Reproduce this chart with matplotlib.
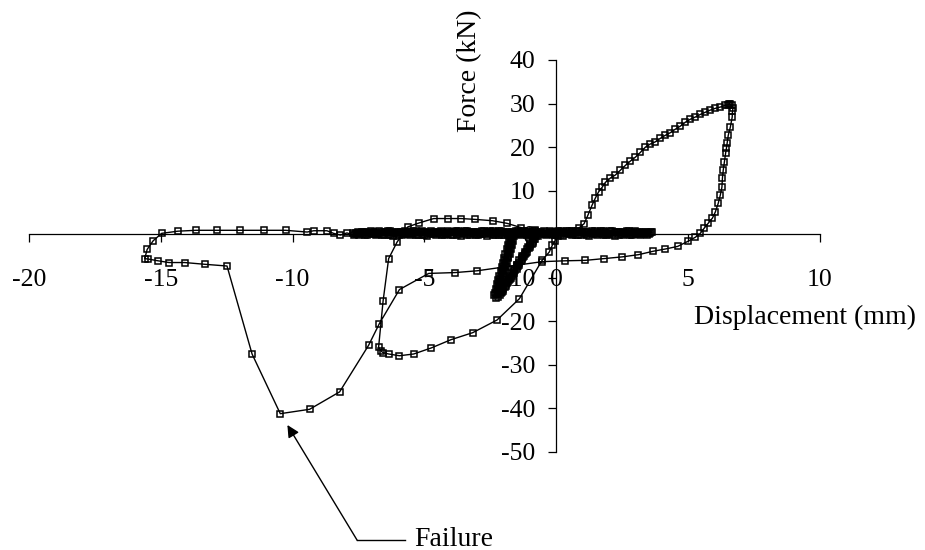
import numpy as np
import matplotlib
matplotlib.use("Agg")
import matplotlib.pyplot as plt

plt.rcParams['font.family'] = ['Liberation Serif', 'DejaVu Serif']
plt.rcParams['axes.unicode_minus'] = False

# Ciclos de amplitud pequeña (banda casi horizontal junto al eje)
band1_x = [-7.60, -7.28, -6.95, -6.63, -6.30, -5.98, -5.66, -5.33, -5.01, -4.69, -4.36, -4.04,
           -3.72, -3.39, -3.07, -2.75, -2.42, -2.10, -1.78, -1.45, -1.13, -0.81, -0.48, -0.16,
           0.16, 0.49, 0.81, 1.13, 1.46, 1.78, 2.10, 2.43, 2.75, 3.07, 3.40, 3.62]
band1_f = [0.3, 0.5, 0.6, 0.5, 0.7, 0.6, 0.6, 0.7, 0.5, 0.6, 0.7, 0.6,
           0.8, 0.7, 0.6, 0.7, 0.8, 0.7, 0.6, 0.8, 0.7, 0.7, 0.8, 0.6,
           0.7, 0.8, 0.7, 0.6, 0.7, 0.8, 0.7, 0.6, 0.7, 0.6, 0.5, 0.4]
band2_x = [3.50, 3.18, 2.86, 2.53, 2.21, 1.89, 1.56, 1.24, 0.92, 0.59, 0.27, -0.05,
           -0.38, -0.70, -1.02, -1.35, -1.67, -1.99, -2.32, -2.64, -2.96, -3.29, -3.61, -3.93,
           -4.26, -4.58, -4.90, -5.23, -5.55, -5.87, -6.20, -6.52, -6.84, -7.17, -7.49]
band2_f = [0.1, -0.1, -0.2, -0.1, -0.3, -0.2, -0.1, -0.3, -0.2, -0.2, -0.3, -0.1,
           -0.2, -0.3, -0.2, -0.1, -0.3, -0.2, -0.2, -0.3, -0.1, -0.2, -0.3, -0.2,
           -0.1, -0.2, -0.3, -0.2, -0.1, -0.2, -0.3, -0.2, -0.1, -0.2, -0.1]
band3_x = [-7.45, -7.12, -6.79, -6.47, -6.14, -5.82, -5.49, -5.17, -4.85, -4.52, -4.20, -3.88,
           -3.55, -3.23, -2.91, -2.58, -2.26, -1.94, -1.61, -1.29, -0.97, -0.64, -0.32, 0.00,
           0.33, 0.65, 0.97, 1.30, 1.62, 1.94, 2.27, 2.59, 2.91, 3.24, 3.55]
band3_f = [0.2, 0.3, 0.2, 0.4, 0.3, 0.2, 0.3, 0.4, 0.3, 0.2, 0.3, 0.4,
           0.3, 0.3, 0.2, 0.4, 0.3, 0.2, 0.3, 0.4, 0.3, 0.2, 0.3, 0.4,
           0.3, 0.2, 0.4, 0.3, 0.3, 0.2, 0.4, 0.3, 0.2, 0.3, 0.2]
band4_x = [3.34, 3.02, 2.69, 2.37, 2.05, 1.72, 1.40, 1.08, 0.75, 0.43, 0.11, -0.22,
           -0.54, -0.86, -1.19, -1.51, -1.83, -2.16, -2.48, -2.80, -3.13, -3.45, -3.77, -4.10,
           -4.42, -4.74, -5.07, -5.39, -5.71, -6.04, -6.36, -6.68, -7.01, -7.33, -7.65]
band4_f = [0.0, 0.1, 0.0, -0.1, 0.1, 0.0, 0.1, 0.0, -0.1, 0.0, 0.1, 0.0,
           0.1, -0.1, 0.0, 0.1, 0.0, -0.1, 0.1, 0.0, 0.0, 0.1, -0.1, 0.0,
           0.1, 0.0, -0.1, 0.0, 0.1, 0.0, -0.1, 0.1, 0.0, 0.0, 0.1]
band5_x = [-7.52, -7.20, -6.87, -6.55, -6.22, -5.90, -5.58, -5.25, -4.93, -4.61, -4.28, -3.96,
           -3.64, -3.31, -2.99, -2.67, -2.34, -2.02, -1.70, -1.37, -1.05, -0.73, -0.40, -0.08,
           0.24, 0.57, 0.89, 1.21, 1.54, 1.86, 2.18, 2.51, 2.83, 3.15, 3.48]
band5_f = [0.5, 0.4, 0.6, 0.5, 0.4, 0.6, 0.5, 0.4, 0.6, 0.5, 0.5, 0.6,
           0.4, 0.5, 0.6, 0.5, 0.4, 0.6, 0.5, 0.5, 0.4, 0.6, 0.5, 0.5,
           0.6, 0.4, 0.5, 0.6, 0.5, 0.4, 0.5, 0.6, 0.5, 0.4, 0.3]
band6_x = [3.42, 3.10, 2.78, 2.45, 2.13, 1.81, 1.48, 1.16, 0.84, 0.51, 0.19, -0.13,
           -0.46, -0.78, -1.10, -1.43, -1.75, -2.07, -2.40, -2.72, -3.04, -3.37, -3.69, -4.01,
           -4.34, -4.66, -4.98, -5.31, -5.63, -5.95, -6.28, -6.60, -6.92, -7.25, -7.57]
band6_f = [-0.1, 0.0, -0.1, 0.0, -0.2, -0.1, 0.0, -0.1, -0.2, 0.0, -0.1, -0.1,
           0.0, -0.2, -0.1, 0.0, -0.1, -0.2, -0.1, 0.0, -0.1, -0.2, 0.0, -0.1,
           -0.1, 0.0, -0.2, -0.1, 0.0, -0.1, -0.2, -0.1, 0.0, -0.1, 0.0]
band7_x = [-7.36, -7.04, -6.71, -6.39, -6.06, -5.74, -5.42, -5.09, -4.77, -4.45, -4.12, -3.80,
           -3.48, -3.15, -2.83, -2.51, -2.18, -1.86, -1.54, -1.21, -0.89, -0.57, -0.24, 0.08,
           0.40, 0.73, 1.05, 1.37, 1.70, 2.02, 2.34, 2.67, 2.99, 3.31, 3.58]
band7_f = [0.6, 0.7, 0.8, 0.7, 0.6, 0.8, 0.7, 0.7, 0.8, 0.6, 0.7, 0.8,
           0.7, 0.6, 0.8, 0.7, 0.8, 0.6, 0.7, 0.8, 0.7, 0.6, 0.7, 0.8,
           0.7, 0.8, 0.6, 0.7, 0.8, 0.7, 0.6, 0.8, 0.7, 0.6, 0.5]
band8_x = [3.26, 2.94, 2.61, 2.29, 1.97, 1.64, 1.32, 1.00, 0.67, 0.35, 0.03, -0.30,
           -0.62, -0.94, -1.27, -1.59, -1.91, -2.24, -2.56, -2.88, -3.21, -3.53, -3.85, -4.18,
           -4.50, -4.82, -5.15, -5.47, -5.79, -6.12, -6.44, -6.76, -7.09, -7.41, -7.70]
band8_f = [0.2, 0.1, 0.3, 0.2, 0.1, 0.2, 0.3, 0.2, 0.1, 0.2, 0.3, 0.1,
           0.2, 0.2, 0.3, 0.1, 0.2, 0.3, 0.2, 0.1, 0.2, 0.3, 0.2, 0.1,
           0.2, 0.3, 0.2, 0.2, 0.1, 0.3, 0.2, 0.1, 0.2, 0.3, 0.2]

# Lazo pequeño negativo (varios ciclos superpuestos)
lazo1_x = [-0.79, -0.89, -0.99, -1.10, -1.20, -1.30, -1.40, -1.50, -1.60, -1.70, -1.81, -1.91,
           -2.01, -2.11, -2.22, -2.29, -2.25, -2.21, -2.16, -2.12, -2.07, -2.03, -1.98, -1.94,
           -1.89, -1.85, -1.80, -1.76, -1.71, -1.67, -1.65,
           -0.80, -0.89, -0.99, -1.09, -1.20, -1.30, -1.40, -1.50, -1.60, -1.70, -1.81, -1.91,
           -2.01, -2.09, -2.15, -2.13, -2.09, -2.04, -2.00, -1.95, -1.91, -1.86, -1.82, -1.77,
           -1.73, -1.68, -1.64, -1.59, -1.56]
lazo1_f = [-0.5, -1.5, -2.5, -3.5, -4.5, -5.5, -6.5, -7.5, -8.5, -9.5, -10.5, -11.5,
           -12.5, -13.5, -14.3, -13.8, -13.0, -12.0, -11.0, -10.0, -9.0, -8.0, -7.0, -6.0,
           -5.0, -4.0, -3.0, -2.0, -1.0, 0.0, 0.3,
           0.1, -1.0, -2.0, -3.0, -4.0, -5.0, -6.0, -7.0, -8.0, -9.0, -10.0, -11.0,
           -12.0, -12.8, -13.2, -12.5, -11.5, -10.5, -9.5, -8.5, -7.5, -6.5, -5.5, -4.5,
           -3.5, -2.5, -1.5, -0.5, 0.3]
lazo2_x = [-0.80, -0.90, -1.00, -1.11, -1.21, -1.31, -1.41, -1.51, -1.61, -1.72, -1.82, -1.92,
           -2.02, -2.12, -2.28, -2.36, -2.34, -2.29, -2.25, -2.20, -2.16, -2.11, -2.07, -2.02,
           -1.98, -1.93, -1.89, -1.84, -1.80, -1.75, -1.72,
           -0.84, -0.94, -1.05, -1.15, -1.25, -1.35, -1.45, -1.55, -1.65, -1.76, -1.86, -1.96,
           -2.06, -2.20, -2.21, -2.17, -2.12, -2.08, -2.03, -1.99, -1.94, -1.90, -1.85, -1.81,
           -1.76, -1.72, -1.67, -1.63]
lazo2_f = [-1.0, -2.0, -3.0, -4.0, -5.0, -6.0, -7.0, -8.0, -9.0, -10.0, -11.0, -12.0,
           -13.0, -14.0, -14.6, -14.0, -13.5, -12.5, -11.5, -10.5, -9.5, -8.5, -7.5, -6.5,
           -5.5, -4.5, -3.5, -2.5, -1.5, -0.5, 0.3,
           -1.2, -2.2, -3.2, -4.2, -5.2, -6.2, -7.2, -8.2, -9.2, -10.2, -11.2, -12.2,
           -13.2, -13.8, -13.2, -12.2, -11.2, -10.2, -9.2, -8.2, -7.2, -6.2, -5.2, -4.2,
           -3.2, -2.2, -1.2, -0.2]

# Ciclo negativo hasta unos -7 mm
neg_x = [0.05, -0.05, -0.15, -0.27, -0.54, -1.40, -2.25, -3.17, -3.99, -4.74, -5.41, -5.95,
         -6.36, -6.57, -6.65, -6.74, -6.57, -6.36, -6.04, -5.63, -5.20, -4.65, -4.12, -3.61,
         -3.07, -2.42, -1.87, -1.33, -0.80]
neg_f = [-0.5, -1.5, -2.5, -4.1, -6.0, -14.8, -19.7, -22.6, -24.2, -26.1, -27.5, -27.9,
         -27.5, -27.2, -26.8, -25.9, -15.3, -5.6, -1.8, 1.7, 2.6, 3.6, 3.6, 3.6,
         3.4, 3.1, 2.5, 1.5, 0.9]

# Ciclo positivo hasta unos 6.6 mm
pos_x = [0.20, 0.60, 0.85, 1.05, 1.20, 1.35, 1.48, 1.60, 1.74, 1.86, 2.05, 2.24,
         2.43, 2.62, 2.81, 3.00, 3.19, 3.38, 3.56, 3.75, 3.94, 4.13, 4.32, 4.51,
         4.70, 4.89, 5.08, 5.27, 5.46, 5.65, 5.84, 6.03, 6.22, 6.41, 6.52, 6.60,
         6.55, 6.65, 6.70, 6.68, 6.67, 6.60, 6.52, 6.48, 6.45, 6.42, 6.37, 6.33,
         6.30, 6.28, 6.22, 6.14, 6.03, 5.92, 5.76, 5.61, 5.46, 5.27, 5.00, 4.60,
         4.13, 3.68, 3.11, 2.50, 1.82, 1.10, 0.34]
pos_f = [0.6, 0.8, 1.4, 2.4, 4.4, 6.6, 8.3, 9.7, 10.8, 11.9, 12.9, 13.6,
         14.7, 15.8, 16.8, 17.7, 18.8, 20.0, 20.7, 21.2, 22.0, 22.7, 23.3, 24.1,
         24.8, 25.7, 26.4, 26.9, 27.5, 28.0, 28.5, 28.9, 29.2, 29.6, 29.7, 29.8,
         29.9, 29.6, 29.0, 28.2, 26.9, 24.6, 22.7, 20.9, 19.7, 18.6, 16.5, 14.7,
         12.9, 10.8, 9.0, 7.1, 5.1, 3.7, 2.5, 1.4, 0.2, -0.7, -1.6, -2.8,
         -3.4, -3.9, -4.7, -5.2, -5.6, -6.0, -6.1]

# Último ciclo negativo: rotura y descarga
rotura_x = [-0.54, -1.48, -3.01, -3.83, -4.84, -5.95, -6.71, -7.12, -8.22, -9.36, -10.47, -11.54,
            -12.49, -13.34, -14.10, -14.69, -15.11, -15.48, -15.61, -15.52, -15.29, -14.97, -14.35, -13.66,
            -12.86, -11.98, -11.08, -10.27, -9.45, -9.20, -8.70, -8.45, -8.19, -7.94, -7.69]
rotura_f = [-6.3, -7.1, -8.4, -8.8, -9.0, -12.7, -20.5, -25.5, -36.2, -40.2, -41.2, -27.5,
            -7.3, -6.9, -6.5, -6.5, -6.1, -5.7, -5.6, -3.5, -1.5, 0.2, 0.7, 0.9,
            0.9, 0.9, 0.9, 0.9, 0.5, 0.8, 0.8, 0.2, -0.2, 0.3, -0.2]

desplazamiento = np.concatenate([band1_x, band2_x, band3_x, band4_x, band5_x, band6_x, band7_x,
                                 band8_x, lazo1_x, lazo2_x, neg_x, pos_x, rotura_x])
fuerza = np.concatenate([band1_f, band2_f, band3_f, band4_f, band5_f, band6_f, band7_f,
                         band8_f, lazo1_f, lazo2_f, neg_f, pos_f, rotura_f])

fig = plt.figure(figsize=(9.25, 5.5), dpi=100)
ax = fig.add_axes([29 / 925, 1 - 452 / 550, 791 / 925, 392 / 550])

# Marcadores cuadrados huecos (sin relleno)
ax.plot(desplazamiento, fuerza, color='black', lw=1.0, marker='s', markersize=4.4,
        markerfacecolor='none', markeredgecolor='black', markeredgewidth=1.1, zorder=3)

ax.set_xlim(-20, 10)
ax.set_ylim(-50, 40)
ax.set_xticks([-20, -15, -10, -5, 0, 5, 10])
ax.set_yticks([-50, -40, -30, -20, -10, 0, 10, 20, 30, 40])

# Ejes cruzando en el origen
ax.spines['left'].set_position(('data', 0))
ax.spines['bottom'].set_position(('data', 0))
ax.spines['top'].set_visible(False)
ax.spines['right'].set_visible(False)
for s in ('left', 'bottom'):
    ax.spines[s].set_linewidth(0.9)

ax.tick_params(axis='x', direction='out', length=6, width=0.9, pad=19, labelsize=18.5)
ax.tick_params(axis='y', direction='out', length=6, width=0.9, pad=9, labelsize=18.5)
ax.patch.set_visible(False)

ax.text(0.981, 0.344, 'Displacement (mm)', transform=ax.transAxes, ha='center', va='center', fontsize=20)
ax.text(0.5575, 0.972, 'Force (kN)', transform=ax.transAxes, ha='center', va='center',
        rotation=90, fontsize=20)

# Anotación de la rotura
ax.annotate('', xy=(-10.2, -43.8), xytext=(-7.55, -70.3),
            arrowprops=dict(arrowstyle='-|>', color='black', lw=1.0, mutation_scale=18,
                            shrinkA=0, shrinkB=0),
            annotation_clip=False)
ax.plot([-7.55, -5.73], [-70.3, -70.3], color='black', lw=1.0, clip_on=False)
ax.text(-5.4, -70.0, 'Failure', ha='left', va='center', fontsize=20, clip_on=False)

fig.savefig('out.png', dpi=100)
